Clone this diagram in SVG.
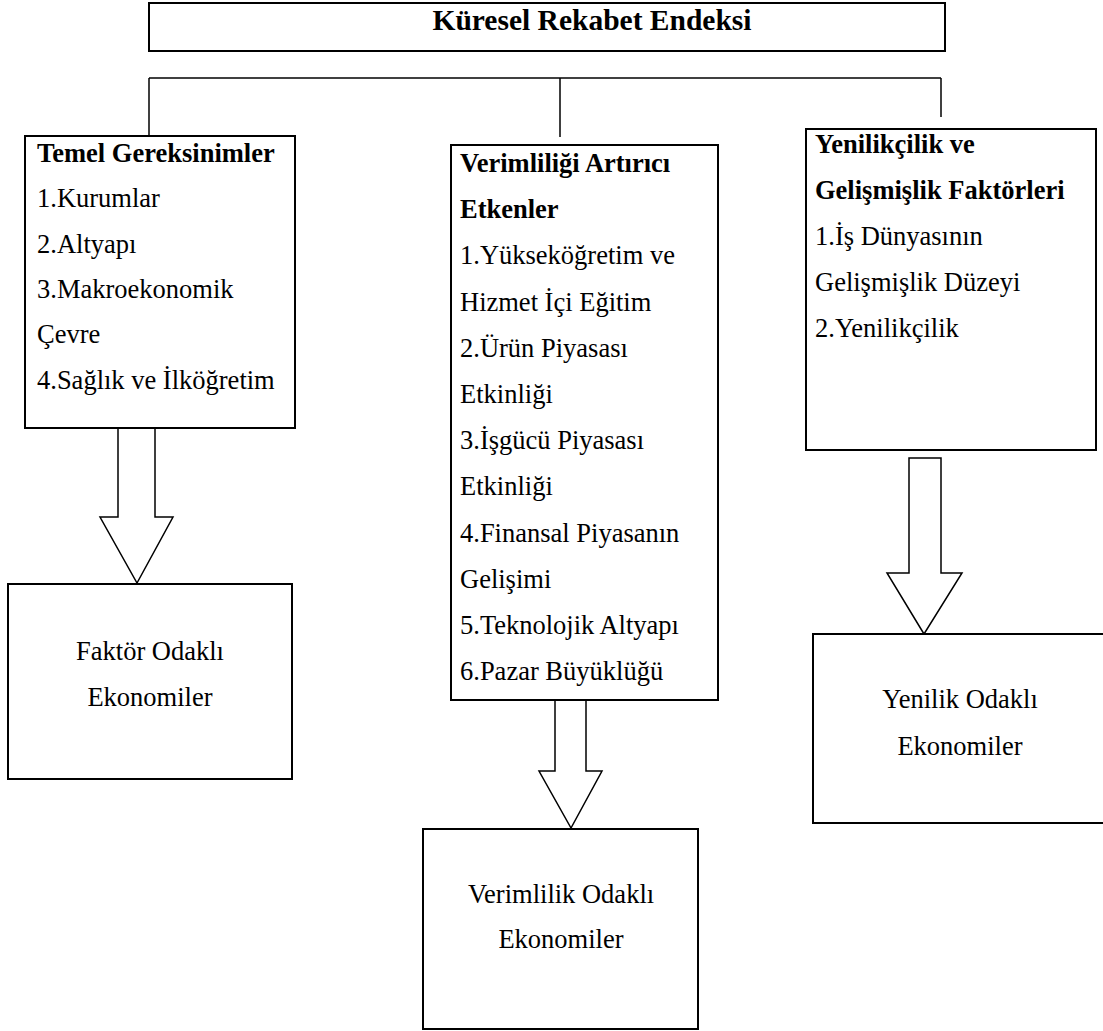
<svg xmlns="http://www.w3.org/2000/svg" width="1103" height="1031" viewBox="0 0 1103 1031" font-family="'Liberation Serif', 'Times New Roman', Times, serif">
<style>
.box{fill:#fff;stroke:#000;stroke-width:2}
.ln{fill:none;stroke:#000;stroke-width:1.5}
.arr{fill:#fff;stroke:#000;stroke-width:1.5;stroke-linejoin:miter}
text{font-family:'Liberation Serif', 'Times New Roman', Times, serif;font-size:26.5px;fill:#000}
.b{font-weight:bold}
.t{font-weight:bold;font-size:29.5px}
.c{text-anchor:middle}
</style>
<rect width="1103" height="1031" fill="#fff"/>
<g id="connectors">
<line class="ln" x1="149" y1="78" x2="941" y2="78"/>
<line class="ln" x1="149" y1="78" x2="149" y2="136"/>
<line class="ln" x1="560" y1="78" x2="560" y2="137"/>
<line class="ln" x1="941" y1="78" x2="941" y2="117"/>
<polygon class="arr" points="118,428 118,517 100,517 137,583 173,517 155,517 155,428"/>
<polygon class="arr" points="555,700 555,771 539,771 571,828 602,771 586,771 586,700"/>
<polygon class="arr" points="909,458 909,573 887,573 924,634 962,573 941,573 941,458"/>
</g>
<g id="root">
<rect class="box" x="149" y="3" width="796" height="48"/>
<text class="t c" x="592" y="30">Küresel Rekabet Endeksi</text>
</g>
<g id="temel">
<rect class="box" x="25" y="136" width="270" height="292"/>
<text class="b" x="37" y="162">Temel Gereksinimler</text>
<text x="37" y="207">1.Kurumlar</text>
<text x="37" y="253">2.Altyapı</text>
<text x="37" y="298">3.Makroekonomik</text>
<text x="37" y="343">Çevre</text>
<text x="37" y="389">4.Sağlık ve İlköğretim</text>
</g>
<g id="verimlilik">
<rect class="box" x="451" y="145" width="267" height="555"/>
<text class="b" x="460" y="172">Verimliliği Artırıcı</text>
<text class="b" x="460" y="218">Etkenler</text>
<text x="460" y="264">1.Yükseköğretim ve</text>
<text x="460" y="311">Hizmet İçi Eğitim</text>
<text x="460" y="357">2.Ürün Piyasası</text>
<text x="460" y="403">Etkinliği</text>
<text x="460" y="449">3.İşgücü Piyasası</text>
<text x="460" y="495">Etkinliği</text>
<text x="460" y="542">4.Finansal Piyasanın</text>
<text x="460" y="588">Gelişimi</text>
<text x="460" y="634">5.Teknolojik Altyapı</text>
<text x="460" y="680">6.Pazar Büyüklüğü</text>
</g>
<g id="yenilikcilik">
<rect class="box" x="806" y="129" width="290" height="321"/>
<text class="b" x="815" y="153">Yenilikçilik ve</text>
<text class="b" x="815" y="199">Gelişmişlik Faktörleri</text>
<text x="815" y="245">1.İş Dünyasının</text>
<text x="815" y="291">Gelişmişlik Düzeyi</text>
<text x="815" y="337">2.Yenilikçilik</text>
</g>
<g id="faktor">
<rect class="box" x="8" y="584" width="284" height="195"/>
<text class="c" x="150" y="660">Faktör Odaklı</text>
<text class="c" x="150" y="706">Ekonomiler</text>
</g>
<g id="verimlilik-odakli">
<rect class="box" x="423" y="829" width="275" height="200"/>
<text class="c" x="561" y="903">Verimlilik Odaklı</text>
<text class="c" x="561" y="948">Ekonomiler</text>
</g>
<g id="yenilik-odakli">
<rect class="box" x="813" y="634" width="300" height="189"/>
<text class="c" x="960" y="708">Yenilik Odaklı</text>
<text class="c" x="960" y="755">Ekonomiler</text>
</g>
</svg>
